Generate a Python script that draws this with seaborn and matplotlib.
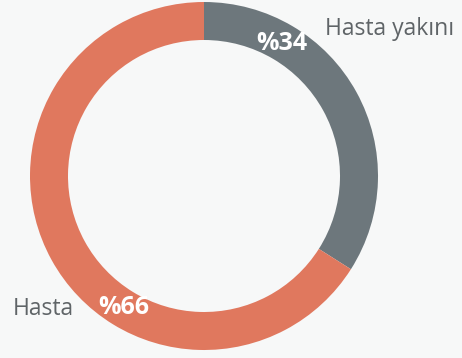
import matplotlib
matplotlib.use("Agg")
import matplotlib.pyplot as plt
import seaborn as sns

categories = ["Hasta yakını", "Hasta"]
shares = [34, 66]
colors = ["#6d777c", "#e0785e"]

sns.set_theme(style="white")
plt.rcParams["font.family"] = ["Open Sans", "DejaVu Sans"]

bg = "#f7f8f8"
fig = plt.figure(figsize=(4.62, 3.58), dpi=100, facecolor=bg)
ax = fig.add_axes([0, 0, 1, 1], facecolor=bg)

R = 174
wedges, _ = ax.pie(
    shares,
    colors=colors,
    radius=R,
    startangle=90,
    counterclock=False,
    wedgeprops=dict(width=38, edgecolor="none"),
)

ax.set_xlim(-204, 258)
ax.set_ylim(-182, 176)
ax.set_aspect("equal")
ax.axis("off")

# percentage labels on the ring
ax.text(78, 132, f"%{shares[0]}", color="white", fontsize=18, fontweight="bold",
        ha="center", va="center")
ax.text(-80, -131, f"%{shares[1]}", color="white", fontsize=18, fontweight="bold",
        ha="center", va="center")

# category labels outside the ring
ax.text(121, 147, categories[0], color="#5f6467", fontsize=16.5, ha="left", va="center")
ax.text(-191, -133, categories[1], color="#5f6467", fontsize=16.5, ha="left", va="center")

fig.savefig("out.png", dpi=100, facecolor=bg)
